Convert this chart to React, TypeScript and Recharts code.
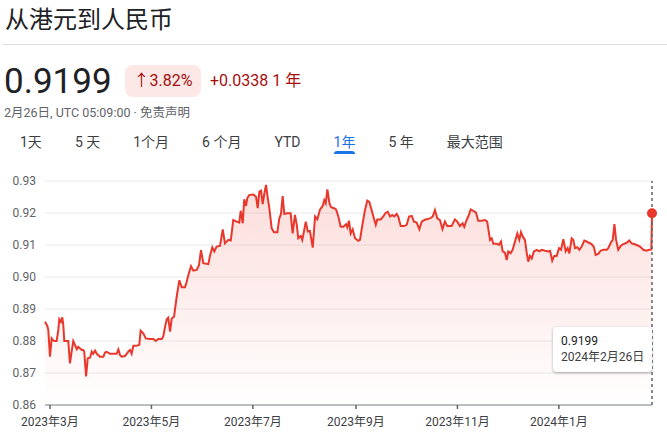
import { AreaChart, Area, XAxis, YAxis, CartesianGrid, ReferenceLine, ReferenceDot } from 'recharts';

// day 0 = 2023-02-26, day 365 = 2024-02-26
const points: [number, number][] = [
  [0, 0.886], [1.4, 0.8847], [2, 0.8834], [3, 0.8751], [4, 0.8808], [5, 0.8801], [6, 0.88], [7, 0.88],
  [8, 0.8834], [8.6, 0.8868], [9.6, 0.886], [10.4, 0.8874], [11, 0.885], [11.6, 0.88], [13, 0.88], [14, 0.88],
  [15, 0.873], [16.1, 0.877], [17, 0.88], [18, 0.8788], [19.1, 0.8774], [20, 0.8782], [21, 0.8777], [22.1, 0.8772],
  [23, 0.8772], [23.6, 0.8767], [24.7, 0.8689], [25.7, 0.8746], [27.1, 0.8748], [28.1, 0.8767], [29, 0.876], [30.1, 0.877],
  [31.1, 0.876], [33.1, 0.8751], [35.1, 0.8751], [36.1, 0.8764], [37.1, 0.8766], [39.1, 0.876], [41.1, 0.876], [43.1, 0.876],
  [44.1, 0.8774], [45.1, 0.8756], [46.1, 0.8751], [48.1, 0.8753], [49.1, 0.876], [50.1, 0.8767], [51.1, 0.8772], [52.1, 0.876],
  [53.1, 0.8785], [55.1, 0.8785], [56.7, 0.8788], [57.5, 0.8832], [59.1, 0.8824], [60.6, 0.8808], [63.1, 0.8806], [65.1, 0.8806],
  [66.6, 0.88], [68.1, 0.8806], [70.2, 0.8806], [71.1, 0.8814], [72.2, 0.8845], [73.2, 0.8868], [74.1, 0.8873], [75.2, 0.8829],
  [76.2, 0.887], [77.6, 0.8876], [79.2, 0.8939], [80.8, 0.899], [82.2, 0.8968], [84.2, 0.8968], [85.2, 0.8985], [86.2, 0.9006],
  [87.8, 0.9034], [89.2, 0.902], [91.2, 0.9022], [92.6, 0.9037], [93.8, 0.9084], [95.2, 0.9043], [97.2, 0.9041], [98.2, 0.904],
  [99.2, 0.9066], [100.6, 0.9093], [101.8, 0.908], [103.2, 0.9095], [105.2, 0.9097], [106.9, 0.9149], [108.2, 0.9105], [110.2, 0.9116],
  [111.7, 0.9114], [113.2, 0.9178], [115.3, 0.9173], [116.8, 0.917], [117.7, 0.9207], [118.9, 0.9168], [119.8, 0.9243], [120.9, 0.9222],
  [121.6, 0.9246], [122.8, 0.9256], [125.3, 0.9258], [126.9, 0.9251], [127.9, 0.9215], [128.9, 0.9267], [129.9, 0.927], [130.9, 0.9228],
  [131.9, 0.9261], [132.9, 0.9288], [133.7, 0.9256], [134.9, 0.9215], [136.3, 0.9152], [137.7, 0.914], [139.7, 0.914], [140.9, 0.9183],
  [141.9, 0.9197], [142.9, 0.9253], [143.9, 0.9197], [145.3, 0.9199], [147.7, 0.9199], [148.9, 0.9136], [150.3, 0.9194], [151.4, 0.9163],
  [152.3, 0.9121], [153.8, 0.9128], [154.7, 0.9116], [155.3, 0.9131], [156.8, 0.9173], [158, 0.9142], [159.3, 0.9144], [161, 0.9092],
  [162.4, 0.9189], [163.7, 0.918], [165.4, 0.9211], [167, 0.9222], [167.9, 0.924], [168.8, 0.923], [169.8, 0.9274], [171, 0.9232],
  [172, 0.9218], [173.8, 0.9215], [175, 0.9211], [176.4, 0.9189], [177.8, 0.9157], [179.4, 0.9157], [181, 0.9165], [181.8, 0.9155],
  [182.8, 0.9176], [183.8, 0.9136], [185, 0.9149], [186.4, 0.9121], [188.4, 0.9113], [189.4, 0.9116], [191, 0.9168], [192.4, 0.9209],
  [193.8, 0.9239], [195, 0.9235], [196.4, 0.9209], [197.8, 0.9183], [198.9, 0.9163], [199.8, 0.918], [201.9, 0.918], [203.4, 0.9189],
  [204.9, 0.9201], [206.1, 0.9204], [207.5, 0.9189], [208.8, 0.9194], [210, 0.9189], [211.5, 0.9197], [212.4, 0.9189], [213.9, 0.9159],
  [215.9, 0.9159], [217.5, 0.9163], [218.9, 0.9189], [220.5, 0.9191], [221.9, 0.9173], [223.5, 0.917], [225.1, 0.9149], [226.5, 0.9173],
  [228.1, 0.9178], [229.9, 0.9181], [231.5, 0.9183], [233.1, 0.9189], [234.5, 0.9209], [235.9, 0.9183], [237.5, 0.9178], [239, 0.915],
  [240.5, 0.9173], [241.9, 0.9159], [244.5, 0.9159], [246.5, 0.918], [247.9, 0.9173], [249.5, 0.9159], [251.1, 0.9168], [252.1, 0.9157],
  [253.5, 0.9178], [254.5, 0.9189], [256, 0.9211], [257.5, 0.9207], [259.2, 0.9201], [260.5, 0.9176], [262.6, 0.9176], [264.6, 0.9178],
  [265.9, 0.9173], [267.6, 0.9116], [268.6, 0.9121], [269.6, 0.9104], [271.6, 0.9104], [273, 0.9101], [274.2, 0.9111], [275.2, 0.908],
  [276.6, 0.9076], [277.6, 0.9053], [278.6, 0.908], [280, 0.9074], [281.2, 0.9085], [282.6, 0.9111], [284, 0.9136], [285.2, 0.9116],
  [286.2, 0.914], [287.3, 0.9126], [288.6, 0.9116], [289.7, 0.9074], [290.6, 0.9048], [291.6, 0.9066], [292.7, 0.9058], [294, 0.908],
  [295.7, 0.9085], [297.2, 0.908], [298.7, 0.9085], [300.7, 0.9082], [302.7, 0.908], [303.7, 0.9082], [305, 0.9051], [306.2, 0.9066],
  [307.7, 0.9066], [309.1, 0.909], [310.3, 0.9085], [311.7, 0.9118], [313.1, 0.908], [314.3, 0.909], [315.3, 0.9074], [316.7, 0.9121],
  [317.7, 0.9116], [318.7, 0.909], [320.1, 0.9093], [321.3, 0.9085], [322.7, 0.9095], [324.3, 0.9114], [325.7, 0.9111], [327.1, 0.9107],
  [328.7, 0.9103], [330.1, 0.9093], [331.1, 0.9069], [332.7, 0.9072], [334.1, 0.9082], [335.7, 0.9085], [337.8, 0.9085], [338.7, 0.909],
  [340.2, 0.9107], [341.4, 0.9116], [342.4, 0.9165], [343.4, 0.9116], [344.7, 0.9085], [346.2, 0.9097], [347.7, 0.9103], [349.8, 0.9107],
  [351.3, 0.9114], [352.8, 0.9105], [354.2, 0.9103], [355.8, 0.91], [357.8, 0.9095], [359.8, 0.9085], [361.4, 0.9082], [363.4, 0.9085],
  [364.6, 0.9086], [365, 0.9199],
];

const monthTicks = [3, 64, 125, 187, 248, 309];
const monthLabels = ['2023年3月', '2023年5月', '2023年7月', '2023年9月', '2023年11月', '2024年1月'];
const rateTicks = [0.86, 0.87, 0.88, 0.89, 0.9, 0.91, 0.92, 0.93];
const ranges = ['1天', '5 天', '1个月', '6 个月', 'YTD', '1年', '5 年', '最大范围'];
const activeRange = '1年';

const lastRate = 0.9199;
const lastDay = 365;

const data = points.map(([d, v]) => ({ d, v }));

const RED = '#e9372b';
const FONT = 'Roboto, "Noto Sans CJK SC", sans-serif';

export default function App() {
  return (
    <div style={{ position: 'absolute', left: 0, top: 0, width: 667, height: 442, background: '#fff', fontFamily: FONT, overflow: 'hidden' }}>
      <AreaChart width={667} height={442} data={data} margin={{ top: 181, right: 15, bottom: 0, left: 0 }} style={{ fontFamily: FONT }}>
        <defs>
          <linearGradient id="redFill" x1="0" y1="0" x2="0" y2="1">
            <stop offset="0%" stopColor="#ea4335" stopOpacity={0.3} />
            <stop offset="100%" stopColor="#ea4335" stopOpacity={0} />
          </linearGradient>
        </defs>
        <CartesianGrid vertical={false} stroke="#e8eaed" />
        <XAxis
          type="number"
          dataKey="d"
          domain={[0, 365]}
          ticks={monthTicks}
          tickFormatter={(v: number) => monthLabels[monthTicks.indexOf(v)]}
          height={37}
          tickSize={4}
          tickMargin={8}
          axisLine={{ stroke: '#80868b' }}
          tickLine={{ stroke: '#5f6368', strokeWidth: 1.5 }}
          tick={{ fill: '#3c4043', fontSize: 12 }}
          interval={0}
        />
        <YAxis
          type="number"
          domain={[0.86, 0.93]}
          ticks={rateTicks}
          width={45}
          axisLine={false}
          tickLine={false}
          tickSize={0}
          tickMargin={9}
          tick={{ fill: '#5f6368', fontSize: 12 }}
          tickFormatter={(v: number) => v.toFixed(2)}
          interval={0}
        />
        <ReferenceLine x={lastDay} stroke="#5f6368" strokeDasharray="3 3" strokeWidth={1.5} />
        <Area
          type="linear"
          dataKey="v"
          stroke={RED}
          strokeWidth={2}
          fill="url(#redFill)"
          dot={false}
          activeDot={false}
          isAnimationActive={false}
        />
        <ReferenceDot x={lastDay} y={lastRate} r={5} fill={RED} stroke="none" />
      </AreaChart>

      <div style={{ position: 'absolute', left: 5, top: 6, fontSize: 24, lineHeight: '28px', color: '#202124' }}>从港元到人民币</div>
      <div style={{ position: 'absolute', left: 3, right: 0, top: 44, height: 1, background: '#dadce0' }} />

      <div style={{ position: 'absolute', left: 4, top: 62, fontSize: 35, lineHeight: '40px', color: '#202124' }}>0.9199</div>
      <div style={{ position: 'absolute', left: 125, top: 65, width: 76, height: 32, borderRadius: 8, background: '#fce8e6', color: '#a50e0e', fontSize: 16, lineHeight: '32px', textAlign: 'center' }}>↑3.82%</div>
      <div style={{ position: 'absolute', left: 210, top: 69, fontSize: 16, lineHeight: '24px', color: '#a50e0e' }}>+0.0338 1 年</div>
      <div style={{ position: 'absolute', left: 4, top: 105, fontSize: 12.5, lineHeight: '16px', color: '#5f6368', whiteSpace: 'nowrap' }}>2月26日, UTC 05:09:00 · 免责声明</div>

      <div style={{ position: 'absolute', left: 20, top: 132, display: 'flex', gap: 33, fontSize: 14, lineHeight: '20px', color: '#3c4043', whiteSpace: 'nowrap' }}>
        {ranges.map((r) => (
          <span key={r} style={{ position: 'relative', color: r === activeRange ? '#1a73e8' : '#3c4043' }}>
            {r}
            {r === activeRange && (
              <span style={{ position: 'absolute', left: 0, right: 0, top: 19, height: 3, borderRadius: '3px 3px 0 0', background: '#1a73e8' }} />
            )}
          </span>
        ))}
      </div>

      <div style={{ position: 'absolute', left: 553, top: 327, width: 99, height: 45, boxSizing: 'border-box', padding: '6px 0 0 8px', background: '#fff', borderRadius: 4, boxShadow: '0 1px 3px rgba(60,64,67,0.3), 0 1px 2px rgba(60,64,67,0.15)', fontSize: 12, lineHeight: '16px', color: '#202124', whiteSpace: 'nowrap' }}>
        <div>{lastRate.toFixed(4)}</div>
        <div style={{ color: '#3c4043' }}>2024年2月26日</div>
      </div>
    </div>
  );
}
